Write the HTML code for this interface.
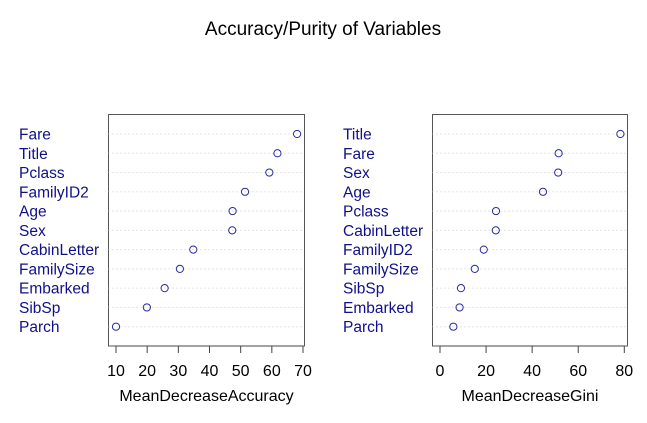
<!DOCTYPE html>
<html><head><meta charset="utf-8"><style>
body{margin:0;background:#fff}
svg{display:block;font-family:"Liberation Sans",Arial,sans-serif}
</style></head><body>
<svg width="647" height="423" viewBox="0 0 647 423">
<text x="323" y="35" font-size="19" text-anchor="middle">Accuracy/Purity of Variables</text>
<g id="p1"></g>
<g id="p2"></g>
</svg>
<script>
const accLabels=["Fare","Title","Pclass","FamilyID2","Age","Sex","CabinLetter","FamilySize","Embarked","SibSp","Parch"];
const accValues=[68.1,61.8,59.2,51.4,47.4,47.3,34.8,30.5,25.6,19.9,10.0];
const accTicks=[10,20,30,40,50,60,70];
const giniLabels=["Title","Fare","Sex","Age","Pclass","CabinLetter","FamilyID2","FamilySize","SibSp","Embarked","Parch"];
const giniValues=[78.3,51.5,51.3,44.7,24.3,24.2,19.0,15.1,9.1,8.5,5.8];
const giniTicks=[0,20,40,60,80];
const NS="http://www.w3.org/2000/svg";
function mk(p,t,a){const e=document.createElementNS(NS,t);for(const k in a)e.setAttribute(k,a[k]);p.appendChild(e);return e;}
function panel(g,labels,vals,ticks,opt){
  const x=v=>opt.x0+(v-opt.v0)*(opt.x1-opt.x0)/(opt.v1-opt.v0);
  const y=i=>134+i*19.27;
  const box=mk(g,'rect',{x:opt.bl,y:114.5,width:opt.br-opt.bl,height:231.5,fill:'none',stroke:'#555','stroke-width':1});
  
  labels.forEach((l,i)=>{
    const ln=mk(g,'line',{x1:opt.bl,x2:opt.br,y1:y(i),y2:y(i),stroke:'#ccc','stroke-dasharray':'1,3'});
    
    const t=mk(g,'text',{x:opt.lx,y:y(i)+5.5,'font-size':15.5,fill:'#10108a'});t.textContent=l;
    
    const c=mk(g,'circle',{cx:x(vals[i]),cy:y(i),r:3.6,fill:'none',stroke:'#2a2aa0','stroke-width':1});
    
  });
  const ax=mk(g,'line',{x1:x(ticks[0]),x2:x(ticks[ticks.length-1]),y1:346,y2:346,stroke:'#444'});
  
  ticks.forEach(v=>{
    const tk=mk(g,'line',{x1:x(v),x2:x(v),y1:346,y2:353,stroke:'#444'});
    
    const t=mk(g,'text',{x:x(v),y:376,'font-size':16,'text-anchor':'middle'});t.textContent=v;
    
  });
  const xt=mk(g,'text',{x:(opt.bl+opt.br)/2,y:401,'font-size':16,'text-anchor':'middle'});xt.textContent=opt.title;
  
}
panel(document.getElementById('p1'),accLabels,accValues,accTicks,{x0:116,x1:303,v0:10,v1:70,bl:108.5,br:304.5,lx:19,title:'MeanDecreaseAccuracy'});
panel(document.getElementById('p2'),giniLabels,giniValues,giniTicks,{x0:440,x1:624.3,v0:0,v1:80,bl:432.5,br:627.5,lx:343,title:'MeanDecreaseGini'});
</script>
</body></html>
